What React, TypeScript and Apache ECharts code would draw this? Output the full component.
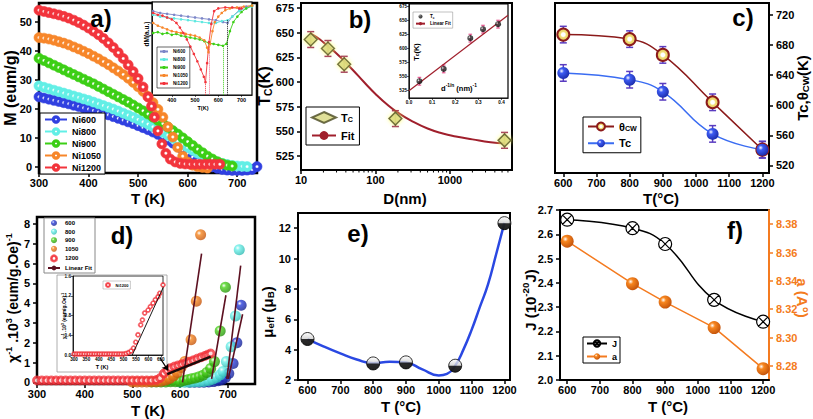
import React, { useEffect, useRef } from "react";
import * as echarts from "echarts";

const FONT = '"Liberation Sans", Arial, Helvetica, sans-serif';

// ---------------- panel a : M(T) ----------------
const tA = [300,310,320,330,340,350,360,370,380,390,400,410,420,430,440,450,460,470,480,490,500,510,520,530,540,550,560,570,580,590,600,610,620,630,640,650,660,670,680,690,700,710,720,730,740];
const m600 = [24.2,23.8,23.4,23.0,22.6,22.2,21.8,21.3,20.9,20.4,20.0,19.5,19.0,18.5,18.0,17.4,16.8,16.2,15.6,15.0,14.3,13.6,12.9,12.1,11.3,10.4,9.4,8.3,7.1,5.9,4.7,3.5,2.4,1.4,0.6,0.1,-0.4,-0.8,-1.0,-1.1,-1.1,-1.1,-1.0,-0.8,0.2];
const m800 = [28.0,27.5,27.0,26.5,26.0,25.5,25.0,24.5,24.0,23.5,23.0,22.4,21.8,21.2,20.6,20.0,19.3,18.6,17.9,17.2,16.4,15.6,14.8,13.9,13.0,12.0,11.0,10.0,8.9,7.8,6.8,5.8,4.8,3.9,3.1,2.4,1.8,1.3,0.9,0.6,0.4,0.3,0.2];
const m900 = [37.5,36.7,35.9,35.1,34.3,33.5,32.7,31.9,31.1,30.3,29.5,28.7,27.8,26.9,26.0,25.1,24.2,23.3,22.4,21.4,20.4,19.4,18.3,17.2,16.1,15.0,13.8,12.6,11.4,10.1,8.8,7.5,6.2,5.0,3.8,2.8,1.9,1.2,0.7,0.4];
const m1050 = [44.6,44.4,44.1,43.7,43.2,42.7,42.1,41.4,40.7,39.9,39.1,38.2,37.3,36.3,35.3,34.2,33.1,31.9,30.6,29.2,27.7,26.1,24.3,22.2,19.9,17.2,13.9,10.4,6.8,3.8,1.8,0.7,0.2,-0.1,-0.3];
const tRed = [300,310,320,330,340,350,360,370,380,390,400,410,420,430,440,450,460,470,480,490,500,510,520,527,533,540,548,556,565,575,585,595,605,615,625,635,645,655,665];
const m1200 = [54.0,53.6,53.2,52.8,52.4,51.9,51.3,50.6,49.8,48.9,47.9,46.8,45.6,44.3,42.8,41.2,39.4,37.4,35.2,32.9,30.5,27.6,24.2,21.0,17.2,12.5,8.0,4.8,2.8,1.8,1.3,1.1,1.0,1.0,1.0,1.0,1.0,1.0,1.0];
const aTickX = [300,400,500,600,700];
const aTickY = [0,10,20,30,40,50];

// inset a : dM/dT (a.u.)
const dm600 = [[320,0.92],[350,0.9],[380,0.89],[410,0.88],[440,0.87],[470,0.86],[500,0.85],[530,0.84],[560,0.83],[590,0.82],[620,0.8],[640,0.79],[660,0.86],[690,0.93],[720,0.97],[745,0.98]];
const dm800 = [[320,0.88],[350,0.86],[380,0.85],[410,0.84],[440,0.83],[470,0.82],[500,0.81],[530,0.8],[560,0.79],[590,0.79],[615,0.81],[640,0.82],[660,0.86],[690,0.92],[720,0.95],[745,0.97]];
const dm900 = [[320,0.68],[340,0.69],[360,0.67],[380,0.68],[400,0.66],[420,0.67],[440,0.65],[460,0.64],[480,0.63],[500,0.62],[520,0.61],[540,0.59],[560,0.57],[580,0.56],[600,0.55],[620,0.54],[635,0.56],[650,0.7],[665,0.8],[682,0.86],[700,0.91],[720,0.95],[745,0.98]];
const dm1050 = [[320,0.79],[340,0.76],[360,0.74],[380,0.72],[400,0.7],[420,0.69],[440,0.68],[460,0.67],[480,0.66],[500,0.65],[520,0.63],[540,0.6],[552,0.52],[558,0.47],[565,0.56],[575,0.7],[585,0.8],[600,0.86],[615,0.9],[630,0.93],[650,0.95],[680,0.96],[710,0.97],[745,0.98]];
const dm1200 = [[320,0.9],[340,0.88],[360,0.87],[380,0.85],[400,0.83],[420,0.79],[435,0.74],[450,0.68],[465,0.61],[480,0.53],[495,0.45],[510,0.37],[525,0.28],[538,0.2],[545,0.14],[552,0.35],[560,0.58],[570,0.78],[582,0.92],[600,0.95],[630,0.96],[660,0.96],[690,0.95],[700,0.95]];
const aInsTickX = [400,500,600,700];

// ---------------- panel b : Tc vs D ----------------
const bD = [13.5, 23, 38, 185, 5400];
const bTc = [643, 634, 618, 563, 541];
const bErr = 8;
const fitD = [13.5,18,23,30,37,50,70,100,150,200,300,500,800,1200,2000,3500,5400];
const fitTc = [649,643,636,629,622,612,600,588,576,569,561,553,548,545,542,539,538];
const bTickY = [525,550,575,600,625,650,675];
const bMinorX = [20,30,40,50,60,70,80,90,200,300,400,500,600,700,800,900,2000,3000,4000,5000,6000];
// inset b
const bInvD = [0.045, 0.15, 0.265, 0.32, 0.385];
const bInsTc = [541, 563, 618, 634, 643];
const bInsErr = 7;
const bLinX = [0, 0.428];
const bLinY = [524, 659];
const bInsTickX = [0, 0.1, 0.2, 0.3, 0.4];

// ---------------- panel c ----------------
const cT = [600, 800, 900, 1050, 1200];
const cTheta = [694, 688, 667, 604, 541];
const cTc = [643, 634, 618, 562, 541];
const cErr = 11;
const cTickX = [600,700,800,900,1000,1100,1200];
const cTickY = [520,560,600,640,680,720];

// ---------------- panel d : 1/chi ----------------
const d600 = [[620,0.01],[630,0.01],[640,0.01],[650,0.01],[660,0.02],[670,0.04],[680,0.08],[688,0.14],[695,0.25],[702,0.45],[711,0.95],[719,2.0],[728,3.9]];
const d800 = [[600,0.01],[610,0.01],[620,0.01],[630,0.02],[640,0.03],[650,0.05],[660,0.1],[668,0.16],[676,0.25],[684,0.38],[690,0.55],[697,1.05],[707,1.8],[716,3.35],[724,6.7]];
const d900 = [[540,0.02],[550,0.02],[560,0.02],[570,0.02],[580,0.03],[590,0.03],[600,0.04],[608,0.1],[616,0.14],[624,0.18],[632,0.22],[640,0.28],[648,0.36],[656,0.5],[664,0.7],[672,1.05],[684,2.6],[695,4.8]];
const d1050 = [[500,0.02],[510,0.02],[520,0.02],[530,0.02],[540,0.03],[550,0.04],[560,0.06],[570,0.12],[578,0.2],[586,0.32],[594,0.5],[602,0.75],[610,1.05],[623,2.15],[634,4.1],[643,7.45]];
const d1200 = [[300,0.1],[310,0.1],[320,0.1],[330,0.1],[340,0.1],[350,0.1],[360,0.1],[370,0.1],[380,0.1],[390,0.1],[400,0.1],[410,0.1],[420,0.1],[430,0.1],[440,0.1],[450,0.1],[460,0.1],[470,0.1],[480,0.1],[490,0.1],[500,0.1],[510,0.1],[520,0.1],[530,0.1],[540,0.1],[550,0.12],[558,0.22],[566,0.45],[573,0.6],[580,0.72],[588,0.8],[596,0.86],[604,0.92],[612,0.98],[620,1.05],[628,1.12],[636,1.2],[644,1.27],[652,1.34],[658,1.4],[664,1.46]];
const fit600 = [[701,0.18],[731,3.44]];
const fit800 = [[698,0.18],[727,5.9]];
const fit900 = [[666,0.18],[696,4.4]];
const fit1050 = [[605,0.0],[645,6.5]];
const fit1200 = [[573,0.42],[664,1.3]];
const arrowFrom = [558, 1.23];
const arrowTo = [575, 0.6];
const dTickX = [300,400,500,600,700];
const dTickY = [0,1,2,3,4,5,6,7,8];
// inset d
const dIns = [[300,0.02],[310,0.02],[320,0.02],[330,0.02],[340,0.02],[350,0.02],[360,0.02],[370,0.02],[380,0.02],[390,0.02],[400,0.02],[410,0.02],[420,0.02],[430,0.02],[440,0.02],[450,0.02],[460,0.02],[470,0.02],[480,0.02],[490,0.02],[500,0.02],[510,0.03],[520,0.05],[530,0.08],[540,0.14],[549,0.26],[558,0.41],[569,0.61],[576,0.71],[585,0.85],[599,0.91],[608,0.98],[619,1.05],[628,1.12],[639,1.18],[646,1.25],[659,1.42]];
const dInsFit = [[535,0.0],[660,1.37]];
const dInsTickX = [300,350,400,450,500,550,600,650];
const dInsTickY = [0,0.4,0.8,1.2,1.6];

// ---------------- panel e ----------------
const eT = [600, 800, 900, 1050, 1200];
const eMu = [4.7, 3.09, 3.16, 2.94, 12.33];
const eCurveT = [600,650,700,750,800,850,900,950,1000,1025,1050,1075,1100,1125,1150,1175,1200];
const eCurveV = [4.7,4.2,3.75,3.35,3.1,3.2,3.15,2.7,2.3,2.4,2.95,4.0,5.3,6.8,8.3,10.3,12.35];
const eTickY = [2,4,6,8,10,12];

// ---------------- panel f ----------------
const fT = [600, 800, 900, 1050, 1200];
const fJ = [2.66, 2.625, 2.56, 2.33, 2.24];
const fA = [8.368, 8.338, 8.325, 8.307, 8.278];
const fTickJ = [2.0,2.1,2.2,2.3,2.4,2.5,2.6,2.7];
const fTickA = [8.28,8.30,8.32,8.34,8.36,8.38];

const LEG: Record<string, string> = {
  i600: "Ni600", i800: "Ni800", i900: "Ni900", i1050: "Ni1050", i1200: "Ni1200",
  Tc: "{n|T}{s|C}", Fit: "{n|Fit}", TcIn: "{n|T}{s|c}", LinFitB: "Linear Fit",
  ThCW: "{n|θ}{s|CW}", TcC: "{n|Tc}",
  d600: "600", d800: "800", d900: "900", d1050: "1050", d1200: "1200", LinFitD: "Linear Fit",
  NiIn: "Ni1200", J: "J", a: "a",
};
const legFmt = (n: string) => (LEG[n] !== undefined ? LEG[n] : n);

const zip = (x: number[], y: number[]) => x.map((v, i) => [v, y[i]]);

const ring = (c: string) =>
  new echarts.graphic.RadialGradient(0.5, 0.5, 0.5, [
    { offset: 0, color: "#ffffff" },
    { offset: 0.3, color: "#ffffff" },
    { offset: 0.55, color: c },
    { offset: 1, color: c },
  ]);
const dot = (c: string) =>
  new echarts.graphic.RadialGradient(0.5, 0.5, 0.5, [
    { offset: 0, color: "#ffffff" },
    { offset: 0.15, color: "#ffffff" },
    { offset: 0.4, color: c },
    { offset: 1, color: c },
  ]);
const sphere = (c: string, d: string) =>
  new echarts.graphic.RadialGradient(0.36, 0.34, 0.72, [
    { offset: 0, color: "#ffffff" },
    { offset: 0.28, color: c },
    { offset: 1, color: d },
  ]);

function vAxis(grid: number, min: number, max: number, ticks: number[] | null, o: any = {}) {
  return {
    type: "value",
    gridIndex: grid,
    min,
    max,
    position: o.position,
    axisLine: { show: true, onZero: false, lineStyle: { color: o.color || "#000", width: o.lw ?? 2 } },
    axisTick: {
      show: ticks !== null,
      length: o.tl ?? 4,
      customValues: ticks || undefined,
      lineStyle: { color: o.color || "#000", width: o.tw ?? 1.5 },
    },
    axisLabel: {
      show: ticks !== null,
      customValues: ticks || undefined,
      color: o.color || "#000",
      fontWeight: "bold",
      fontSize: o.fs ?? 11,
      fontFamily: FONT,
      margin: o.margin ?? 4,
      formatter: o.fmt || ((v: number) => String(v)),
    },
    splitLine: { show: false },
  };
}

function errBars(xi: number, yi: number, xs: number[], ys: number[], e: number, color: string, cap: number, lw = 1.5) {
  return {
    type: "custom",
    xAxisIndex: xi,
    yAxisIndex: yi,
    silent: true,
    z: 3,
    data: xs.map((x, i) => [x, ys[i] - e, ys[i] + e]),
    encode: { x: 0, y: [1, 2] },
    renderItem: (_p: any, api: any) => {
      const x = api.value(0);
      const a = api.coord([x, api.value(1)]);
      const b = api.coord([x, api.value(2)]);
      const st = { stroke: color, lineWidth: lw };
      return {
        type: "group",
        children: [
          { type: "line", shape: { x1: a[0], y1: a[1], x2: b[0], y2: b[1] }, style: st },
          { type: "line", shape: { x1: a[0] - cap, y1: a[1], x2: a[0] + cap, y2: a[1] }, style: st },
          { type: "line", shape: { x1: b[0] - cap, y1: b[1], x2: b[0] + cap, y2: b[1] }, style: st },
        ],
      };
    },
  };
}

// minor ticks of the log axis in panel b, placed through the axis scale
function logMinorTicks(xi: number, yi: number, xs: number[], yBottom: number) {
  return {
    type: "custom",
    xAxisIndex: xi,
    yAxisIndex: yi,
    silent: true,
    z: 3,
    clip: false,
    data: xs.map((x) => [x, yBottom]),
    encode: { x: 0, y: 1 },
    renderItem: (_p: any, api: any) => {
      const p = api.coord([api.value(0), api.value(1)]);
      return {
        type: "line",
        shape: { x1: p[0], y1: p[1], x2: p[0], y2: p[1] + 2.5 },
        style: { stroke: "#000", lineWidth: 1 },
      };
    },
  };
}

const richSet = (size: number, color = "#000") => ({
  a: { fontSize: size, fontWeight: "bold", fontFamily: FONT, fill: color, color },
  n: { fontSize: size, fontWeight: "bold", fontFamily: FONT, fill: color, color },
  s: { fontSize: size * 0.65, fontWeight: "bold", fontFamily: FONT, fill: color, color, padding: [size * 0.5, 0, 0, 0] },
  p: { fontSize: size * 0.65, fontWeight: "bold", fontFamily: FONT, fill: color, color, padding: [0, 0, size * 0.55, 0] },
});

const gt = (x: number, y: number, text: string, size: number, rot = 0, color = "#000") => ({
  type: "text",
  x,
  y,
  rotation: rot,
  z: 60,
  silent: true,
  style: {
    text,
    fill: color,
    fontSize: size,
    fontWeight: "bold",
    fontFamily: FONT,
    align: "center",
    verticalAlign: "middle",
    rich: richSet(size, color),
  },
});

function legend(o: any) {
  return {
    orient: "vertical",
    left: o.left,
    top: o.top,
    data: o.data,
    formatter: legFmt,
    selectedMode: false,
    borderColor: o.bc || "#000",
    borderWidth: o.bw ?? 1,
    backgroundColor: "#fff",
    padding: o.pad ?? [3, 4],
    itemGap: o.gap ?? 3,
    itemWidth: o.iw ?? 22,
    itemHeight: o.ih ?? 9,
    z: 20,
    textStyle: {
      color: "#000",
      fontWeight: "bold",
      fontSize: o.fs ?? 10,
      fontFamily: FONT,
      rich: richSet(o.fs ?? 10),
    },
  };
}

function buildOption() {
  const gridDefs = [
    [39, 3, 218, 170, 2.5, "transparent"],
    [152, 2, 100, 93, 1.2, "#fff"],
    [301, 3, 211, 167, 2, "transparent"],
    [409, 4, 99, 94, 1.2, "#fff"],
    [555, 3, 214, 170, 2, "transparent"],
    [37, 217, 218, 167, 2.5, "transparent"],
    [73, 276, 90, 79, 0.8, "#fff"],
    [298, 213, 212, 167, 2, "transparent"],
    [560, 210, 209, 170, 2, "transparent"],
  ];
  const grid = gridDefs.map((g: any) => ({
    left: g[0], top: g[1], width: g[2], height: g[3], show: true,
    borderColor: "#000", borderWidth: g[4], backgroundColor: g[5], containLabel: false,
  }));

  const small = { fs: 4.6, margin: 2, tl: 2, lw: 0.8, tw: 0.6 };
  const xAxis: any[] = [
    vAxis(0, 300, 740, aTickX, {}),
    vAxis(1, 315, 745, aInsTickX, { ...small, fs: 5.5 }),
    {
      type: "log", gridIndex: 2, min: 10, max: 6800, logBase: 10,
      axisLine: { show: true, onZero: false, lineStyle: { color: "#000", width: 2 } },
      axisTick: { show: true, length: 4, lineStyle: { color: "#000", width: 1.5 } },
      axisLabel: { color: "#000", fontWeight: "bold", fontSize: 11, fontFamily: FONT, margin: 4, showMaxLabel: false,
        formatter: (v: number) => String(Math.round(v)) },
      splitLine: { show: false }, minorTick: { show: false },
    },
    vAxis(3, 0, 0.428, bInsTickX, { ...small, fmt: (v: number) => v.toFixed(1) }),
    vAxis(4, 575, 1220, cTickX, {}),
    vAxis(5, 300, 757, dTickX, {}),
    vAxis(6, 296, 659, dInsTickX, small),
    vAxis(7, 571, 1217, cTickX, {}),
    vAxis(8, 578, 1218, cTickX, {}),
  ];
  const yAxis: any[] = [
    vAxis(0, -2, 56.5, aTickY, { margin: 7 }),
    vAxis(1, 0, 1.02, null, { lw: 0.8 }),
    vAxis(2, 511, 680, bTickY, { margin: 7 }),
    vAxis(3, 511, 679, bTickY, small),
    vAxis(4, 510, 736, cTickY, { position: "right", margin: 7 }),
    vAxis(5, -0.08, 8.35, dTickY, { margin: 7 }),
    vAxis(6, 0, 1.6, dInsTickY, { ...small, fmt: (v: number) => v.toFixed(1) }),
    vAxis(7, 2, 13, eTickY, { margin: 7 }),
    vAxis(8, 2.0, 2.7, fTickJ, { margin: 7, fmt: (v: number) => v.toFixed(1) }),
    vAxis(8, 8.27, 8.39, fTickA, { position: "right", margin: 7, color: "#f47b20", fmt: (v: number) => v.toFixed(2) }),
  ];

  const series: any[] = [];

  // ---- a main
  const aDefs: any[] = [
    ["Ni600", tA, m600, "#3040e0"],
    ["Ni800", tA, m800, "#62efe6"],
    ["Ni900", tA, m900, "#3ccf16"],
    ["Ni1050", tA, m1050, "#f7862a"],
    ["Ni1200", tRed, m1200, "#f2343c"],
  ];
  aDefs.forEach(([name, t, m, c]) => {
    series.push({
      name, type: "line", xAxisIndex: 0, yAxisIndex: 0, data: zip(t, m),
      symbol: "circle", symbolSize: 10, showSymbol: true,
      lineStyle: { color: c, width: 1.2 },
      itemStyle: { color: dot(c), borderColor: c, borderWidth: 0.6 },
    });
  });
  // ---- a inset
  const aiDefs: any[] = [
    ["i600", dm600, "#7c86c8", null],
    ["i800", dm800, "#5ee8e0", [640, 0.82, "#222"]],
    ["i900", dm900, "#3ccf16", [620, 0.54, "#3ccf16"]],
    ["i1050", dm1050, "#f7862a", [562, 0.5, "#f06a8a"]],
    ["i1200", dm1200, "#f2343c", [545, 0.14, "#f2343c"]],
  ];
  aiDefs.forEach(([name, d, c, ml]) => {
    series.push({
      name, type: "line", xAxisIndex: 1, yAxisIndex: 1, data: d,
      symbol: "circle", symbolSize: 2.6, lineStyle: { color: c, width: 0.9 }, itemStyle: { color: c }, z: 4,
      markLine: ml
        ? { silent: true, symbol: ["none", "none"], label: { show: false },
            lineStyle: { type: "dotted", color: ml[2], width: 1 },
            data: [[{ coord: [ml[0], ml[1]] }, { coord: [ml[0], 0] }]] }
        : undefined,
    });
  });

  // ---- b main
  series.push(logMinorTicks(2, 2, bMinorX, 511));
  series.push({
    name: "Fit", type: "line", xAxisIndex: 2, yAxisIndex: 2, data: zip(fitD, fitTc), smooth: true,
    symbol: "none", lineStyle: { color: "#a01f2c", width: 2 }, itemStyle: { color: "#a01f2c" },
  });
  series.push(errBars(2, 2, bD, bTc, bErr, "#9b2a5a", 3.5));
  series.push({
    name: "Tc", type: "scatter", xAxisIndex: 2, yAxisIndex: 2, data: zip(bD, bTc), symbol: "diamond", symbolSize: 13, z: 5,
    itemStyle: { color: "#d8d880", borderColor: "#4a4a22", borderWidth: 1.5, shadowBlur: 4, shadowColor: "#ffff70" },
  });
  // ---- b inset
  series.push({
    name: "LinFitB", type: "line", xAxisIndex: 3, yAxisIndex: 3, data: zip(bLinX, bLinY), symbol: "none",
    lineStyle: { color: "#a01f2c", width: 1.2 }, itemStyle: { color: "#a01f2c" }, z: 4,
  });
  series.push(errBars(3, 3, bInvD, bInsTc, bInsErr, "#e04080", 1.8, 1));
  series.push({
    name: "TcIn", type: "scatter", xAxisIndex: 3, yAxisIndex: 3, data: zip(bInvD, bInsTc), symbol: "circle", symbolSize: 6, z: 5,
    itemStyle: { color: sphere("#333", "#000") },
  });

  // ---- c
  series.push(errBars(4, 4, cT, cTheta, cErr, "#5a3cc0", 3.5));
  series.push(errBars(4, 4, cT, cTc, cErr, "#5a3cc0", 3.5));
  series.push({
    name: "ThCW", type: "line", xAxisIndex: 4, yAxisIndex: 4, data: zip(cT, cTheta), smooth: 0.45,
    symbol: "circle", symbolSize: 12, z: 5, lineStyle: { color: "#8b1a1a", width: 1.5 },
    itemStyle: {
      color: new echarts.graphic.RadialGradient(0.5, 0.5, 0.5, [
        { offset: 0, color: "#ffffff" }, { offset: 0.3, color: "#ffffff" },
        { offset: 0.5, color: "#f2e07a" }, { offset: 1, color: "#e3c65a" }]),
      borderColor: "#8b1a1a", borderWidth: 2,
    },
  });
  series.push({
    name: "TcC", type: "line", xAxisIndex: 4, yAxisIndex: 4, data: zip(cT, cTc), smooth: 0.45,
    symbol: "circle", symbolSize: 12, z: 5, lineStyle: { color: "#3a6cf2", width: 1.5 },
    itemStyle: { color: sphere("#3d5cf2", "#1a2aa8") },
  });

  // ---- d main
  const dDefs: any[] = [
    ["d600", d600, sphere("#2c40dc", "#141f8a"), "#2c40dc", 11],
    ["d800", d800, sphere("#6ef0ea", "#2cb8b0"), "#6ef0ea", 11],
    ["d900", d900, sphere("#4cd41e", "#238c08"), "#4cd41e", 11],
    ["d1050", d1050, sphere("#f6861f", "#c0500a"), "#f6861f", 11],
    ["d1200", d1200, ring("#f2343c"), "#f2343c", 9],
  ];
  dDefs.forEach(([name, d, col, c, sz]) => {
    series.push({
      name, type: "scatter", xAxisIndex: 5, yAxisIndex: 5, data: d, symbol: "circle", symbolSize: sz,
      itemStyle: { color: col, borderColor: c, borderWidth: name === "d1200" ? 0.8 : 0 },
    });
  });
  [fit1050, fit900, fit800, fit600].forEach((d) => {
    series.push({
      name: "LinFitD", type: "line", xAxisIndex: 5, yAxisIndex: 5, data: d, symbol: "none", z: 6,
      lineStyle: { color: "#5c1020", width: 1.6 }, itemStyle: { color: "#5c1020" },
    });
  });
  series.push({
    name: "fit1200", type: "line", xAxisIndex: 5, yAxisIndex: 5, data: fit1200, symbol: "none", z: 6,
    lineStyle: { color: "#1a0a0a", width: 2.5 },
    markLine: {
      silent: true, symbol: ["none", "arrow"], symbolSize: 6, label: { show: false },
      lineStyle: { color: "#000", width: 1.2, type: "solid" },
      data: [[{ coord: arrowFrom }, { coord: arrowTo }]],
    },
  });
  // ---- d inset
  series.push({
    name: "NiIn", type: "scatter", xAxisIndex: 6, yAxisIndex: 6, data: dIns, symbol: "circle", symbolSize: 5, z: 5,
    itemStyle: { color: ring("#f2343c"), borderColor: "#f2343c", borderWidth: 0.5 },
  });
  series.push({
    name: "dInsFit", type: "line", xAxisIndex: 6, yAxisIndex: 6, data: dInsFit, symbol: "none", z: 6,
    lineStyle: { color: "#000", width: 0.9 },
  });

  // ---- e
  series.push({
    name: "eCurve", type: "line", xAxisIndex: 7, yAxisIndex: 7, data: zip(eCurveT, eCurveV), smooth: 0.5,
    symbol: "none", lineStyle: { color: "#2a48e2", width: 2.5 },
  });
  series.push({
    name: "eTop", type: "scatter", xAxisIndex: 7, yAxisIndex: 7, data: zip(eT, eMu), symbol: "circle", symbolSize: 13, z: 5,
    itemStyle: {
      color: new echarts.graphic.LinearGradient(0, 0, 0, 1, [{ offset: 0, color: "#ffffff" }, { offset: 1, color: "#9a9a9a" }]),
      borderColor: "#000", borderWidth: 1,
    },
  });
  series.push({
    name: "eBot", type: "scatter", xAxisIndex: 7, yAxisIndex: 7, data: zip(eT, eMu),
    symbol: "path://M0,0A10,10,0,0,0,20,0Z", symbolSize: [13, 6.5], symbolOffset: [0, 3.25], z: 6,
    itemStyle: { color: "#000" },
  });

  // ---- f
  series.push({
    name: "J", type: "line", xAxisIndex: 8, yAxisIndex: 8, data: zip(fT, fJ), smooth: 0.45,
    symbol: "path://M0,10A10,10,0,1,1,20,10A10,10,0,1,1,0,10ZM3,3L17,17M17,3L3,17", symbolSize: 13, z: 5,
    lineStyle: { color: "#000", width: 1.5 },
    itemStyle: { color: "#fff", borderColor: "#000", borderWidth: 1.2 },
  });
  series.push({
    name: "a", type: "line", xAxisIndex: 8, yAxisIndex: 9, data: zip(fT, fA),
    symbol: "circle", symbolSize: 13, z: 5, lineStyle: { color: "#f47b20", width: 1.5 },
    itemStyle: { color: sphere("#f7861f", "#c0500a") },
  });

  const legendArr = [
    legend({ left: 40, top: 113, data: ["Ni600", "Ni800", "Ni900", "Ni1050", "Ni1200"], fs: 9, ih: 8, gap: 3, iw: 22, pad: [2, 4] }),
    legend({ left: 157, top: 47, data: ["i600", "i800", "i900", "i1050", "i1200"], fs: 4.6, ih: 4, gap: 3, iw: 8, pad: [2, 2], bw: 0.6 }),
    legend({ left: 306, top: 107, data: ["Tc", "Fit"], fs: 11, ih: 11, gap: 6, iw: 24, pad: [4, 5] }),
    legend({ left: 413, top: 12, data: ["TcIn", "LinFitB"], fs: 4.6, ih: 4, gap: 2, iw: 9, pad: [2, 2], bw: 0.6, bc: "#999" }),
    legend({ left: 583, top: 117, data: ["ThCW", "TcC"], fs: 11, ih: 10, gap: 5, iw: 26, pad: [4, 4] }),
    legend({ left: 44, top: 218, data: ["d600", "d800", "d900", "d1050", "d1200", "LinFitD"], fs: 6, ih: 6, gap: 2.6, iw: 12, pad: [2, 3], bc: "#888" }),
    legend({ left: 103, top: 281, data: ["NiIn"], fs: 4, ih: 4, gap: 1, iw: 5, pad: [1, 2], bw: 0.5, bc: "#999" }),
    legend({ left: 583, top: 337, data: ["J", "a"], fs: 9, ih: 8, gap: 4, iw: 20, pad: [2, 3] }),
  ];

  const graphic: any[] = [
    // panel letters
    gt(101, 18, "a)", 24), gt(360, 19, "b)", 24), gt(743, 17, "c)", 24),
    gt(122, 235, "d)", 24), gt(358, 233, "e)", 24), gt(735, 230, "f)", 24),
    // axis titles
    gt(10, 88, "M (eum/g)", 16, Math.PI / 2),
    gt(148, 198, "T (K)", 15),
    gt(146, 34, "dM(a.u.)", 6.5, Math.PI / 2),
    gt(203, 108, "T(K)", 5.5),
    gt(264, 86, "{a|T}{s|C}{a|(K)}", 16, Math.PI / 2),
    gt(405, 198, "D(nm)", 15),
    gt(416, 52, "{a|T}{s|c}{a|(K)}", 7.5, Math.PI / 2),
    gt(459, 88, "{a|d}{p|-1/n}{a| (nm)}{p|-1}", 7.5),
    gt(661, 198, "T(°C)", 15),
    gt(802, 88, "{a|Tc,θ}{s|CW}{a|(K)}", 15, Math.PI / 2),
    gt(13, 298, "{a|χ}{p|-1}{a| .10}{p|3}{a| (eum/g.Oe)}{p|-1}", 14, Math.PI / 2),
    gt(148, 410, "T (K)", 15),
    gt(64, 316, "{a|χ}{p|-1}{a| .10}{p|3}{a| (eum/g.Oe)}{p|-1}", 5, Math.PI / 2),
    gt(102, 367, "T (K)", 5.5),
    gt(267, 312, "{a|μ}{s|eff}{a| (μ}{s|B}{a|)}", 15, Math.PI / 2),
    gt(401, 406, "T (°C)", 15),
    gt(530, 300, "{a|J (10}{p|-20}{a|J)}", 15, Math.PI / 2),
    gt(802, 298, "a (A°)", 15, -Math.PI / 2, "#f47b20"),
    gt(668, 406, "T (°C)", 15),
    {
      type: "rect", z: 1, silent: true,
      shape: { x: 57, y: 275, width: 110, height: 97 },
      style: { fill: "none", stroke: "#999", lineWidth: 0.8 },
    },
  ];

  return {
    animation: false,
    backgroundColor: "#fff",
    textStyle: { fontFamily: FONT },
    grid,
    xAxis,
    yAxis,
    legend: legendArr,
    series,
    graphic,
  };
}

export default function App() {
  const ref = useRef<HTMLDivElement>(null);
  useEffect(() => {
    const chart = echarts.init(ref.current as HTMLDivElement, null, { renderer: "svg" });
    chart.setOption(buildOption() as any);
    return () => chart.dispose();
  }, []);
  return (
    <div
      ref={ref}
      style={{ position: "absolute", left: 0, top: 0, width: 813, height: 419, background: "#fff" }}
    />
  );
}
